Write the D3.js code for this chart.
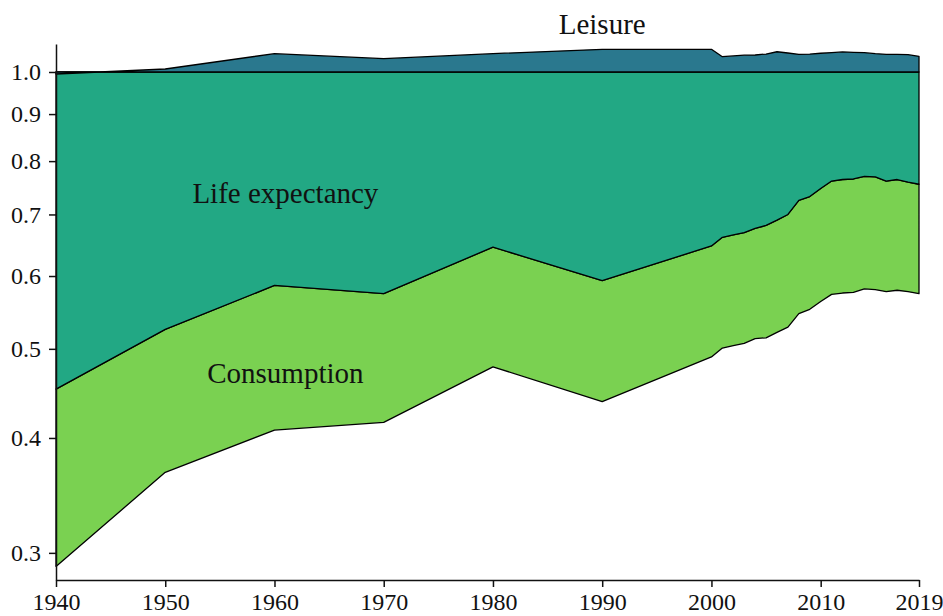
<!DOCTYPE html>
<html>
<head>
<meta charset="utf-8">
<script src="https://cdn.jsdelivr.net/npm/d3@7"></script>
<style>
  body { margin: 0; background: #fff; }
  svg text { font-family: "Liberation Serif", "DejaVu Serif", serif; fill: #111; }
</style>
</head>
<body>
<svg id="chart" width="943" height="616"></svg>
<script>
// years: decades, then annual from 2000
let years = [1940, 1950, 1960, 1970, 1980, 1990,
    2000, 2001, 2002, 2003, 2004, 2005, 2006, 2007, 2008, 2009,
    2010, 2011, 2012, 2013, 2014, 2015, 2016, 2017, 2018, 2019];

// lower edge of the consumption band
let consumptionLow = [0.290, 0.367, 0.408, 0.416, 0.478, 0.438,
    0.490, 0.501, 0.504, 0.507, 0.513, 0.514, 0.521, 0.528, 0.546, 0.552,
    0.563, 0.573, 0.575, 0.576, 0.581, 0.580, 0.577, 0.579, 0.577, 0.574];

// upper edge of consumption = lower edge of life expectancy
let consumptionHigh = [0.452, 0.525, 0.586, 0.574, 0.645, 0.593,
    0.647, 0.661, 0.665, 0.669, 0.676, 0.681, 0.690, 0.700, 0.725, 0.732,
    0.747, 0.761, 0.764, 0.765, 0.770, 0.769, 0.761, 0.764, 0.759, 0.755];

// life expectancy band ends at 1.0
let baseline = 1.0;

// top of the leisure band
let leisureTop = [0.995, 1.0075, 1.047, 1.034, 1.047, 1.0585,
    1.0585, 1.039, 1.041, 1.043, 1.0435, 1.046, 1.052, 1.0487, 1.0453, 1.046,
    1.048, 1.0495, 1.0514, 1.0505, 1.0495, 1.047, 1.0453, 1.0453, 1.0443, 1.040];

let yTicks = [0.3, 0.4, 0.5, 0.6, 0.7, 0.8, 0.9, 1.0];
let xTicks = [1940, 1950, 1960, 1970, 1980, 1990, 2000, 2010, 2019];

let labels = [
    {text: "Leisure", year: 1990, value: 1.0998},
    {text: "Life expectancy", year: 1961, value: 0.7199},
    {text: "Consumption", year: 1961, value: 0.4587}
];

let svg = d3.select('#chart');

let margin = {top: 44, left: 56, bottom: 36, right: 24};
let width = 943;
let height = 616;

let x = d3.scaleLinear().domain([1940, 2019]).range([margin.left, width - margin.right]);
let y = d3.scaleLog().domain([0.2803, 1.0726]).range([height - margin.bottom, margin.top]);

let rows = years.map((yr, i) => ({
    year: yr,
    low: consumptionLow[i],
    high: consumptionHigh[i],
    leisure: leisureTop[i]
}));

let band = (lo, hi) => d3.area()
    .x(d => x(d.year))
    .y0(d => y(lo(d)))
    .y1(d => y(hi(d)));

let bands = [
    {fill: "#7ad151", area: band(d => d.low, d => d.high)},
    {fill: "#22a884", area: band(d => d.high, d => baseline)},
    {fill: "#2a788e", area: band(d => baseline, d => d.leisure)}
];

bands.forEach(b => {
    svg.append("path")
        .datum(rows)
        .attr("d", d => b.area(d) + "Z")
        .attr("fill", b.fill)
        .attr("stroke", "#000")
        .attr("stroke-width", 1.3)
        .attr("stroke-linejoin", "round");
});

// axes
let xAxis = d3.axisBottom(x).tickValues(xTicks).tickFormat(d3.format("d"))
    .tickSizeInner(7).tickSizeOuter(0).tickPadding(6);
let yAxis = d3.axisLeft(y).tickValues(yTicks).tickFormat(d3.format(".1f"))
    .tickSizeInner(7).tickSizeOuter(0).tickPadding(8);

let gx = svg.append("g")
    .attr("transform", "translate(0," + (height - margin.bottom) + ")")
    .call(xAxis);
let gy = svg.append("g")
    .attr("transform", "translate(" + margin.left + ",0)")
    .call(yAxis);

[gx, gy].forEach(g => {
    g.selectAll("path, line").attr("stroke", "#111").attr("stroke-width", 1.5);
    g.selectAll("text").attr("font-size", 24).attr("font-family", "Liberation Serif").attr("fill", "#111");
});

// band labels
svg.selectAll("text.label")
    .data(labels)
    .enter()
    .append("text")
    .attr("class", "label")
    .attr("x", d => x(d.year))
    .attr("y", d => y(d.value))
    .attr("text-anchor", "middle")
    .attr("font-size", 29)
    .text(d => d.text);
</script>
</body>
</html>
